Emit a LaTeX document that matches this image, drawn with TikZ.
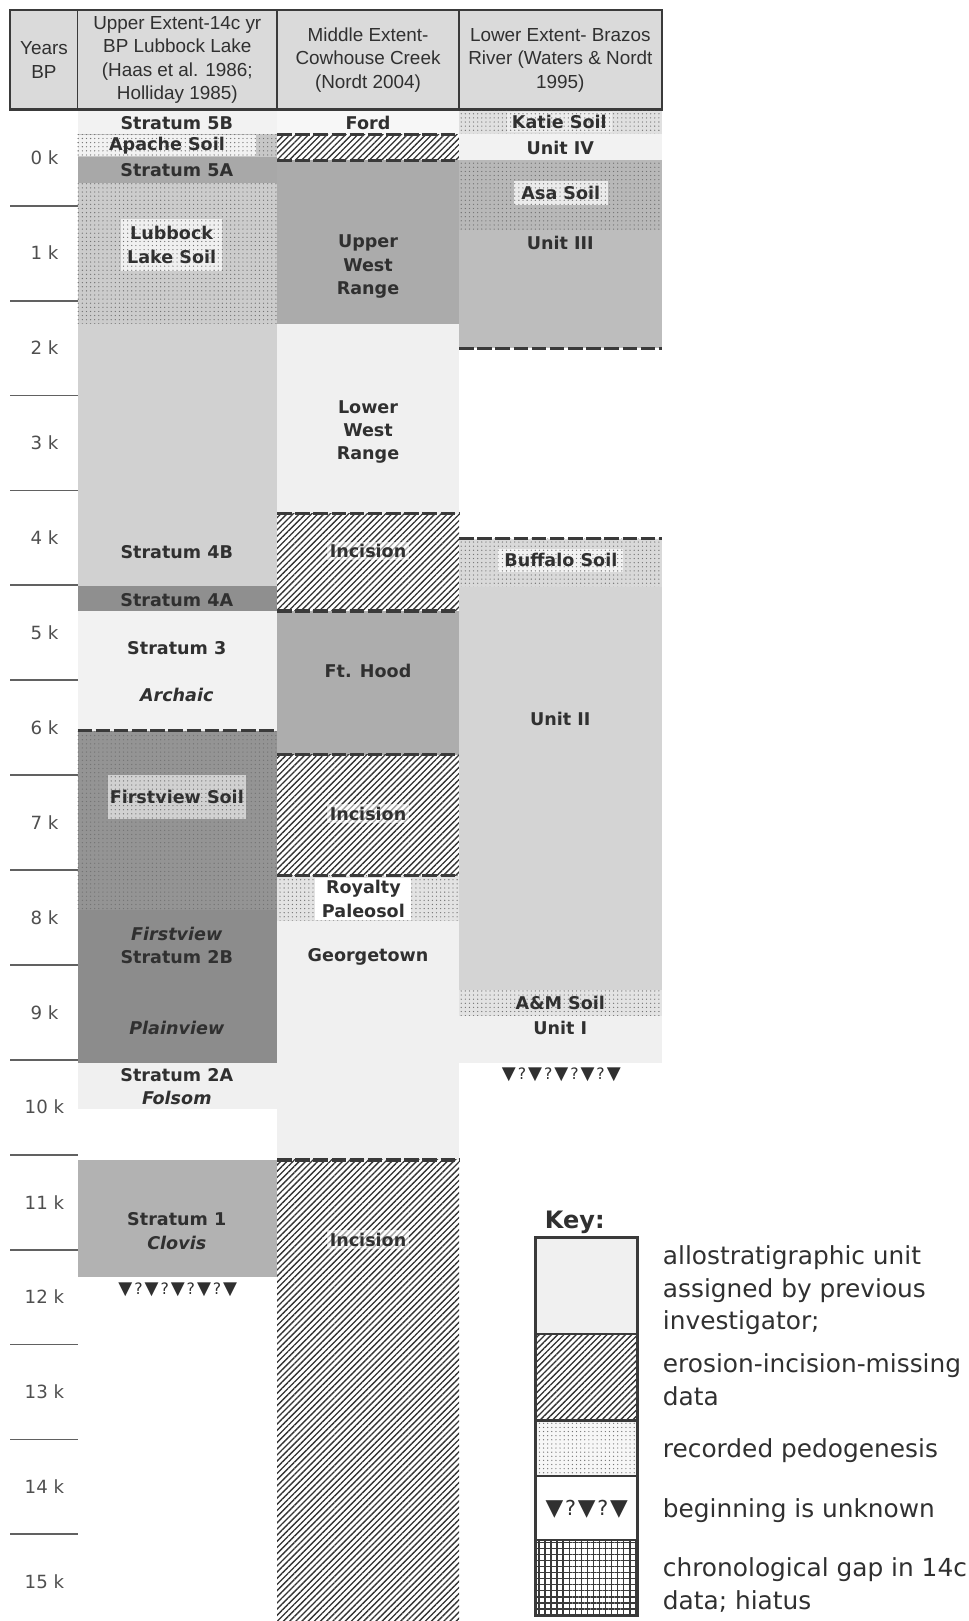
\documentclass[tikz,border=0pt]{standalone}
\usepackage{fontspec}
\setmainfont{DejaVu Sans}
\newfontfamily\headfont{Liberation Sans}
\usetikzlibrary{patterns.meta}
\definecolor{ink}{HTML}{303030}
\definecolor{rule}{HTML}{3A3A3A}
\definecolor{headgray}{HTML}{DADADA}
\newcommand{\unk}[2]{\kern#1{\fontsize{#2}{#2}\selectfont ?}\kern#1}
\tikzset{
  lbl/.style={font=\bfseries\fontsize{14.5}{19.2}\selectfont,text=ink,align=center,inner sep=1pt},
  era/.style={lbl,font=\bfseries\itshape\fontsize{14.5}{19.2}\selectfont},
  soilbox/.style={lbl,fill=#1,inner sep=0pt},
  cutlbl/.style={lbl,fill=white,fill opacity=0.55,text opacity=1,inner sep=2pt},
  headtxt/.style={font=\headfont\fontsize{15.6}{19.4}\selectfont,text=ink,align=center},
  yrlbl/.style={font=\fontsize{15}{18}\selectfont,text=ink!85},
  keytxt/.style={font=\fontsize{20.5}{27}\selectfont,text=ink,align=left,anchor=west,inner sep=0pt},
  qmarks/.style={font=\fontsize{#1}{#1}\selectfont,text=ink,inner sep=0pt},
  pedo/.style={preaction={fill=#1},pattern={Dots[distance=3.4pt,radius=0.55pt]},pattern color=black!55},
  incis/.style={preaction={fill=white},pattern={Lines[angle=45,distance=3.6pt,line width=1.1pt]},pattern color=black!80},
  gridfill/.style={preaction={fill=white},pattern={Hatch[distance=5pt,line width=1.2pt]},pattern color=rule},
  gapline/.style={rule,line width=2.6pt,dash pattern=on 12pt off 3pt},
  ktick/.style={rule!80,line width=1.5pt},
}
\begin{document}
\begin{tikzpicture}[x=0.03cm,y=-0.03cm]
\useasboundingbox (0,0) rectangle (937,1568);
% header row
\filldraw[fill=headgray,draw=rule,line width=1.6pt] (10,10) rectangle (640,106);
\draw[rule,line width=2.6pt] (10,106) -- (640,106);
\foreach \xx in {75,268,444} \draw[rule,line width=1.4pt] (\xx,10) -- (\xx,106);
\node[headtxt] (hyr) at (42.5,58) {Years\\BP};
\node[headtxt] (hup) at (171.5,58) {Upper Extent-14c yr\\BP Lubbock Lake\\(Haas et al. 1986;\\Holliday 1985)};
\node[headtxt] (hmid) at (356,58) {Middle Extent-\\Cowhouse Creek\\(Nordt 2004)};
\node[headtxt] (hlow) at (542,58) {Lower Extent- Brazos\\River (Waters \& Nordt\\1995)};
% time scale
\foreach \k in {0,...,15} \node[yrlbl] (yr\k) at (43,{153+91.8*\k}) {\k\ k};
\foreach \k in {0,...,14} \draw[ktick] (10,{199+91.8*\k}) -- (75,{199+91.8*\k});
% Lubbock Lake
\fill[black!5] (75,107) rectangle (268,130);
\fill[pedo=black!22] (75,130) rectangle (268,152);
\fill[black!34] (75,152) rectangle (268,177);
\fill[pedo=black!20] (75,177) rectangle (268,313);
\fill[black!18] (75,313) rectangle (268,567);
\fill[black!44] (75,567) rectangle (268,591);
\fill[black!5] (75,591) rectangle (268,707);
\fill[pedo=black!42] (75,707) rectangle (268,880);
\fill[black!45] (75,880) rectangle (268,1028);
\fill[black!6] (75,1028) rectangle (268,1073);
\fill[black!30] (75,1122) rectangle (268,1235);
\draw[gapline] (75,707) -- (268,707);
% Cowhouse Creek
\fill[black!3] (268,107) rectangle (444,130);
\fill[incis] (268,130) rectangle (444,155);
\fill[black!33] (268,155) rectangle (444,313);
\fill[black!6] (268,313) rectangle (444,497);
\fill[incis] (268,497) rectangle (444,591);
\fill[black!32] (268,591) rectangle (444,730);
\fill[incis] (268,730) rectangle (444,847);
\fill[pedo=black!11] (268,847) rectangle (444,891);
\fill[black!6] (268,891) rectangle (444,1122);
\fill[incis] (268,1122) rectangle (444,1568);
\foreach \yy in {130,155,497,591,730,847,1122} \draw[gapline] (268,\yy) -- (444,\yy);
% Brazos River
\fill[pedo=black!12] (444,107) rectangle (640,130);
\fill[black!5] (444,130) rectangle (640,155);
\fill[pedo=black!28] (444,155) rectangle (640,222);
\fill[black!26] (444,222) rectangle (640,337);
\fill[pedo=black!15] (444,521) rectangle (640,568);
\fill[black!17] (444,568) rectangle (640,958);
\fill[pedo=black!11] (444,958) rectangle (640,983);
\fill[black!6] (444,983) rectangle (640,1028);
\foreach \yy in {337,521} \draw[gapline] (444,\yy) -- (640,\yy);
% labels
\node[lbl] (s5b) at (171,119) {Stratum 5B};
\node[soilbox,pedo=black!5,minimum width=5.19cm,minimum height=0.62cm] (apache) at (161.5,141) {Apache Soil};
\node[lbl] (s5a) at (171,165) {Stratum 5A};
\node[soilbox,pedo=black!6,minimum width=2.94cm,minimum height=1.5cm] (lls) at (166,237) {Lubbock\\Lake Soil};
\node[lbl] (s4b) at (171,534) {Stratum 4B};
\node[lbl] (s4a) at (171,580) {Stratum 4A};
\node[lbl] (s3) at (171,627) {Stratum 3};
\node[era] (arch) at (171,672) {Archaic};
\node[soilbox,pedo=black!18,minimum width=4.02cm,minimum height=1.26cm] (fvs) at (171,771) {Firstview Soil};
\node[era] (fv) at (171,903) {Firstview};
\node[lbl] (s2b) at (171,926) {Stratum 2B};
\node[era] (plv) at (171,994) {Plainview};
\node[lbl] (s2a) at (171,1040) {Stratum 2A};
\node[era] (fol) at (171,1062) {Folsom};
\node[lbl] (s1) at (171,1179) {Stratum 1};
\node[era] (clv) at (171,1202) {Clovis};
\node[qmarks=15] (unk1) at (172,1248) {▼\unk{1.6pt}{13}▼\unk{1.6pt}{13}▼\unk{1.6pt}{13}▼\unk{1.6pt}{13}▼};
\node[lbl] (ford) at (356,119) {Ford};
\node[lbl] (uwr) at (356,258) {Upper\\West\\Range};
\node[lbl] (lwr) at (356,418) {Lower\\West\\Range};
\node[cutlbl] (inc1) at (356,533) {Incision};
\node[lbl] (fth) at (356,649) {Ft. Hood};
\node[cutlbl] (inc2) at (356,787) {Incision};
\node[soilbox=white,minimum width=2.79cm,minimum height=1.23cm] (roy) at (351.5,869.5) {Royalty\\Paleosol};
\node[lbl] (geo) at (356,926) {Georgetown};
\node[cutlbl] (inc3) at (356,1199) {Incision};
\node[soilbox,pedo=black!7,minimum width=3.06cm,minimum height=0.57cm] (katie) at (541,118) {Katie Soil};
\node[lbl] (u4) at (542,143) {Unit IV};
\node[soilbox,pedo=black!8,minimum width=2.73cm,minimum height=0.69cm] (asa) at (542.5,186.5) {Asa Soil};
\node[lbl] (u3) at (542,235) {Unit III};
\node[soilbox,pedo=black!5,minimum width=3.63cm,minimum height=0.66cm] (buf) at (542.5,542) {Buffalo Soil};
\node[lbl] (u2) at (542,695) {Unit II};
\node[lbl] (am) at (542,970) {A\&M Soil};
\node[lbl] (u1) at (542,994) {Unit I};
\node[qmarks=15] (unk2) at (543,1040) {▼\unk{1.6pt}{13}▼\unk{1.6pt}{13}▼\unk{1.6pt}{13}▼\unk{1.6pt}{13}▼};
% key
\node[font=\bfseries\fontsize{19.8}{22}\selectfont,text=ink] (keyhd) at (556,1182) {Key:};
\fill[black!6] (518,1197) rectangle (617,1290);
\fill[incis] (518,1290) rectangle (617,1374);
\fill[pedo=black!3] (518,1374) rectangle (617,1428);
\fill[white] (518,1428) rectangle (617,1490);
\fill[gridfill] (518,1490) rectangle (617,1563);
\foreach \yy in {1290,1374,1428,1490} \draw[rule,line width=1.8pt] (518,\yy) -- (617,\yy);
\draw[rule,line width=2.4pt] (518,1197) rectangle (617,1563);
\node[qmarks=19] (unkkey) at (567.5,1460) {▼\unk{1.5pt}{17}▼\unk{1.5pt}{17}▼};
\node[keytxt] (k1) at (641,1248) {allostratigraphic unit\\assigned by previous\\investigator;};
\node[keytxt] (k2) at (641,1334.5) {erosion-incision-missing\\data};
\node[keytxt] (k3) at (641,1403) {recorded pedogenesis};
\node[keytxt] (k4) at (641,1461) {beginning is unknown};
\node[keytxt] (k5) at (641,1533.5) {chronological gap in 14c\\data; hiatus};
\end{tikzpicture}
\end{document}
